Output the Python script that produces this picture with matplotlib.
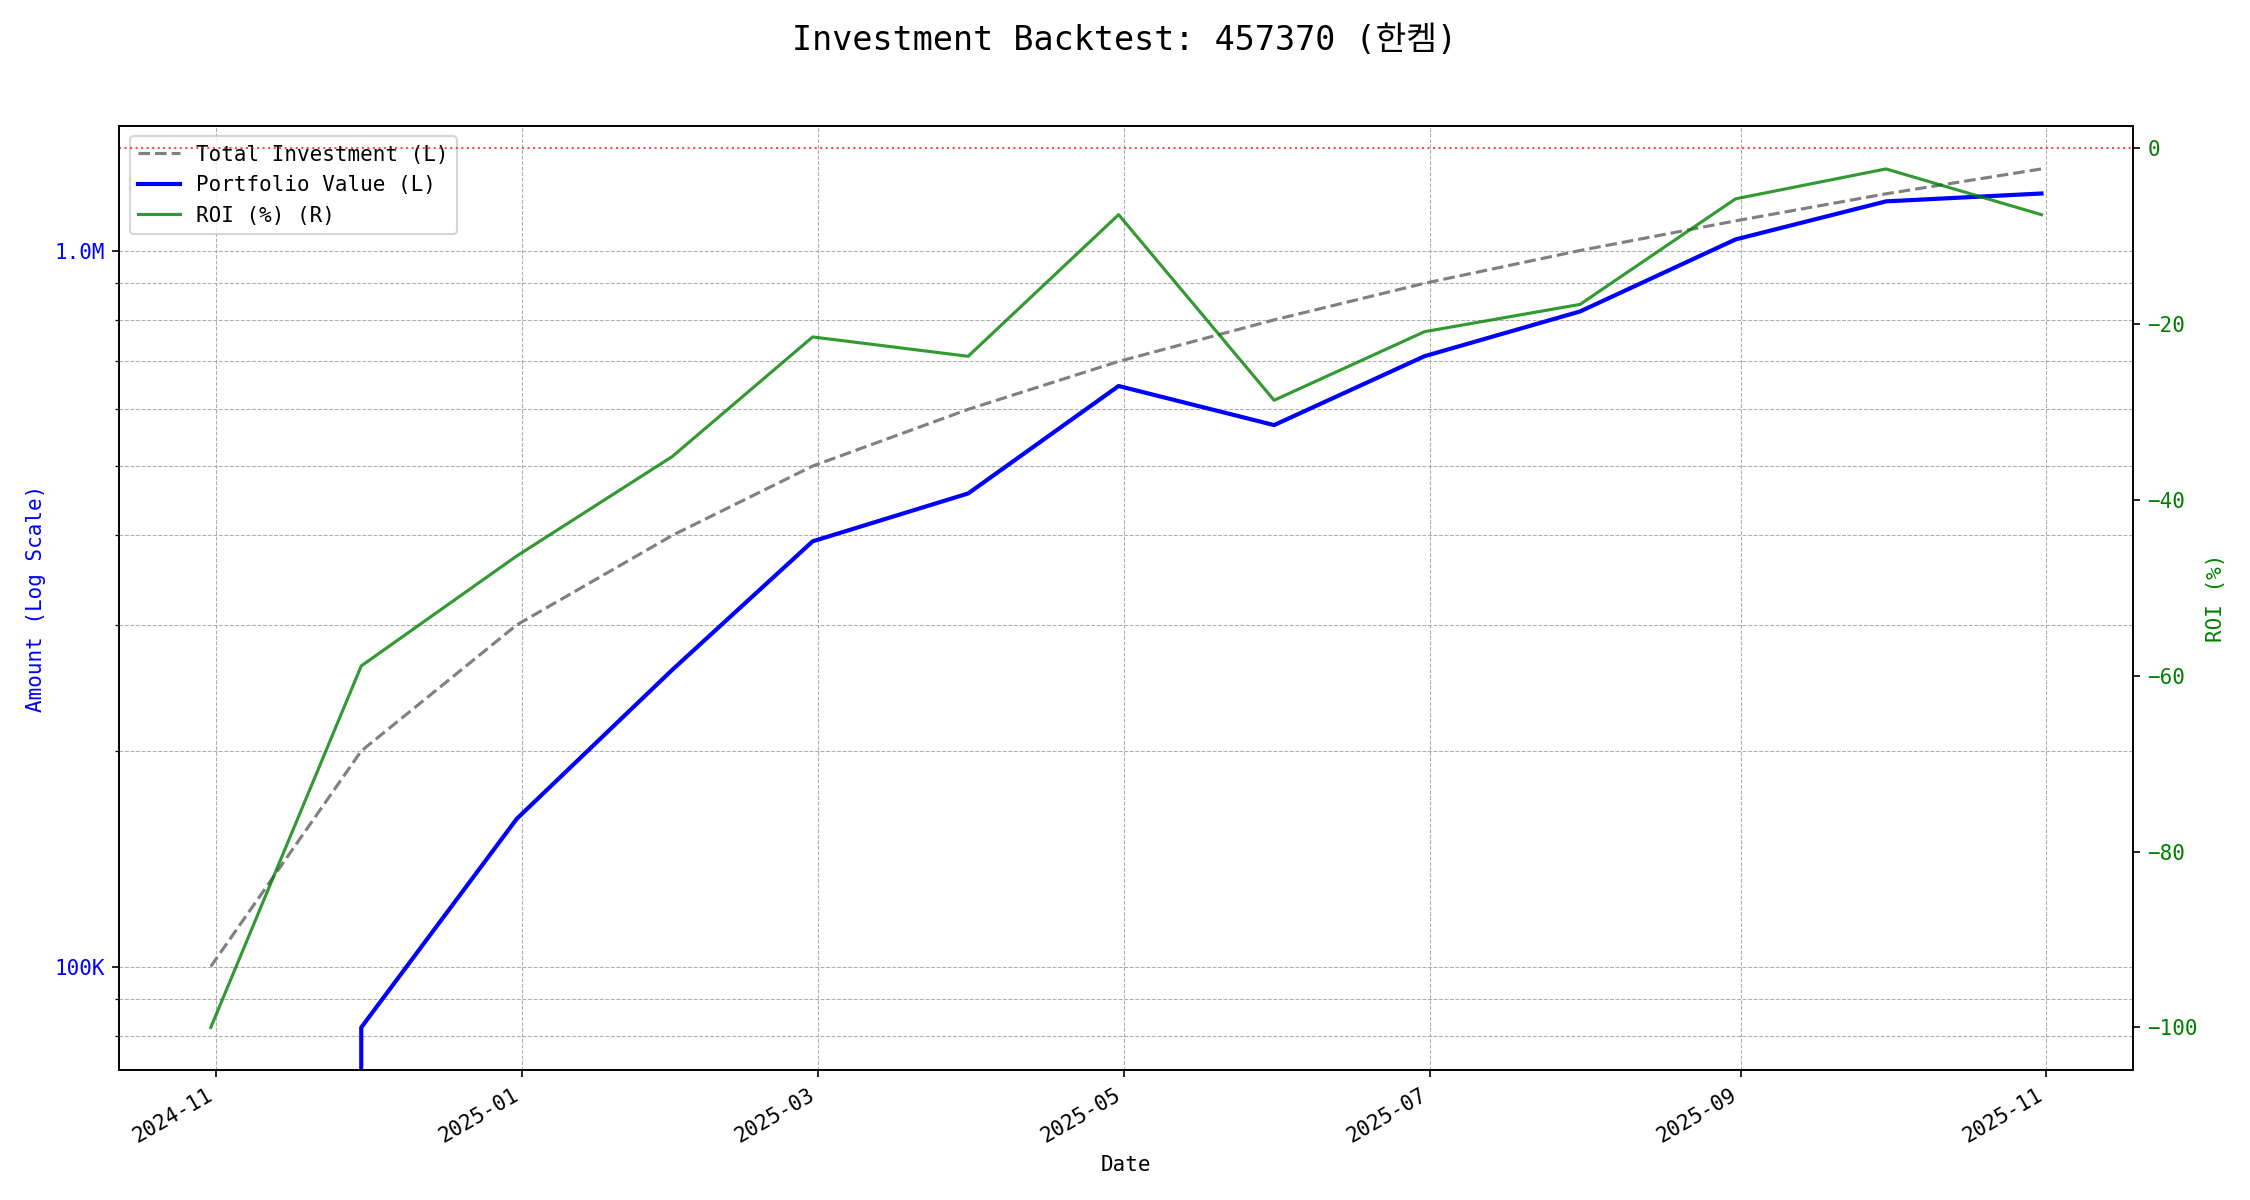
import matplotlib
matplotlib.use("Agg")
import matplotlib.pyplot as plt
import matplotlib.ticker as mticker
import pandas as pd

plt.rcParams['font.family'] = ['DejaVu Sans Mono', 'Noto Sans CJK KR']

# monthly backtest data
dates = pd.to_datetime([
    "2024-10-31", "2024-11-30", "2024-12-31", "2025-01-31", "2025-02-28",
    "2025-03-31", "2025-04-30", "2025-05-31", "2025-06-30", "2025-07-31",
    "2025-08-31", "2025-09-30", "2025-10-31",
])
total_investment = [100000, 200000, 300000, 400000, 500000, 600000, 700000,
                    800000, 900000, 1000000, 1100000, 1200000, 1300000]
roi_pct = [-100.0, -58.9, -46.4, -35.1, -21.5, -23.7, -7.6,
           -28.7, -20.9, -17.8, -5.8, -2.4, -7.6]
portfolio_value = [inv * (1 + r / 100) for inv, r in zip(total_investment, roi_pct)]


def amount_fmt(x, pos):
    if x >= 1e6:
        return f"{x / 1e6:.1f}M"
    if x >= 1e3:
        return f"{x / 1e3:.0f}K"
    return f"{x:.0f}"


fig, ax1 = plt.subplots(figsize=(15, 8), dpi=150)

l1, = ax1.plot(dates, total_investment, color='gray', linestyle='--', linewidth=1.5,
               label='Total Investment (L)')
l2, = ax1.plot(dates, portfolio_value, color='blue', linewidth=2,
               label='Portfolio Value (L)')
ax1.set_yscale('log')
ax1.yaxis.set_major_formatter(mticker.FuncFormatter(amount_fmt))
ax1.yaxis.set_minor_formatter(mticker.NullFormatter())
ax1.tick_params(axis='y', labelcolor='blue')
ax1.set_ylabel('Amount (Log Scale)', color='blue')
ax1.set_xlabel('Date')
ax1.grid(True, which='both', linestyle='--', linewidth=0.5, color='#999999', alpha=0.8)

ax2 = ax1.twinx()
l3, = ax2.plot(dates, roi_pct, color='green', alpha=0.8, linewidth=1.5,
               label='ROI (%) (R)')
ax2.set_ylim(ax2.get_ylim())
ax2.axhline(0, color='red', linestyle=':', alpha=0.7, linewidth=1)
ax2.tick_params(axis='y', labelcolor='green')
ax2.set_ylabel('ROI (%)', color='green')

ax1.xaxis.set_major_locator(matplotlib.dates.MonthLocator(bymonth=[1, 3, 5, 7, 9, 11]))
ax1.xaxis.set_major_formatter(matplotlib.dates.DateFormatter('%Y-%m'))
fig.autofmt_xdate()

ax1.legend(handles=[l1, l2, l3], loc='upper left')
fig.suptitle('Investment Backtest: 457370 (한켐)', fontsize=16)
fig.subplots_adjust(left=0.053, right=0.948, top=0.895, bottom=0.108)

fig.savefig('out.png', dpi=150)
